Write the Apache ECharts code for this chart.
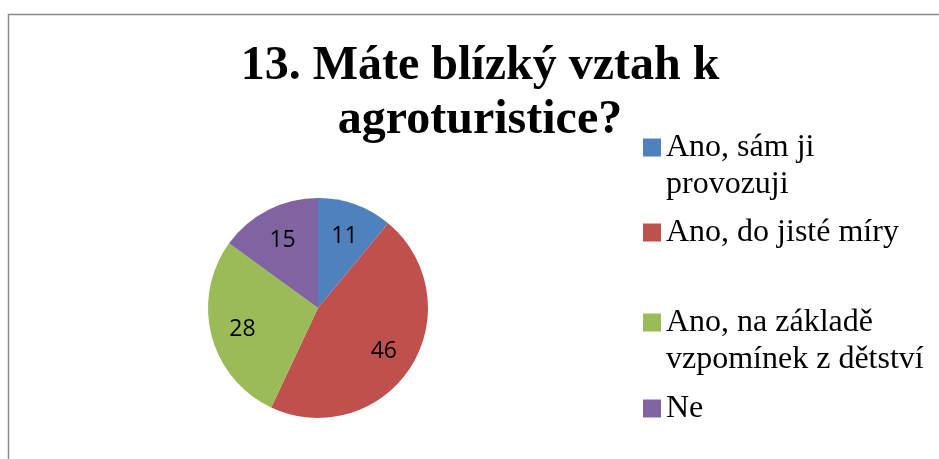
<!DOCTYPE html>
<html>
<head>
	<meta charset="utf-8"/>
	<title>13. Máte blízký vztah k agroturistice?</title>
	<script src="https://cdn.jsdelivr.net/npm/echarts@6/dist/echarts.min.js"></script>
	<style>
		html, body { margin: 0; padding: 0; background: #fff; }
		#chart { width: 939px; height: 459px; }
	</style>
</head>
<body>
<div id="chart"></div>
<script>
    // data
    var titleText = '13. Máte blízký vztah k\nagroturistice?';
    var categories = ['Ano, sám ji provozuji', 'Ano, do jisté míry', 'Ano, na základě vzpomínek z dětství', 'Ne'];
    var values = [11, 46, 28, 15];
    var colors = ['#4F81BD', '#C0504D', '#9BBB59', '#8064A2'];
    // legend wraps like the original
    var legendLines = [['Ano, sám ji', 'provozuji'], ['Ano, do jisté míry'], ['Ano, na základě', 'vzpomínek z dětství'], ['Ne']];
    var legendTops = [92, 214, 267, 390];

    var pieData = [];
    for (var i = 0; i < categories.length; i++) {
        pieData.push({ name: categories[i], value: values[i], itemStyle: { color: colors[i] } });
    }

    var legends = [];
    for (var j = 0; j < categories.length; j++) {
        (function (k) {
            legends.push({
                orient: 'vertical',
                left: 643,
                top: legendTops[k],
                padding: 0,
                itemWidth: 18,
                itemHeight: 18,
                itemGap: 0,
                icon: 'rect',
                selectedMode: false,
                data: [categories[k]],
                formatter: function () {
                    // leading blank line keeps the marker beside the first line
                    var lines = legendLines[k];
                    return lines.length > 1 ? '\n' + lines.join('\n') : lines[0];
                },
                textStyle: {
                    fontFamily: '"Liberation Serif", "Times New Roman", serif',
                    fontSize: 32,
                    lineHeight: 37,
                    color: '#000'
                }
            });
        })(j);
    }

    var myChart = echarts.init(document.getElementById('chart'));
    var option = {
        animation: false,
        title: {
            text: titleText,
            left: 480,
            textAlign: 'center',
            top: 40,
            padding: 0,
            textStyle: {
                fontFamily: '"Liberation Serif", "Times New Roman", serif',
                fontWeight: 'bold',
                fontSize: 48,
                lineHeight: 54,
                color: '#000'
            }
        },
        legend: legends,
        graphic: [{
            type: 'polyline',
            silent: true,
            shape: { points: [[939, 14.5], [8.5, 14.5], [8.5, 459]] },
            style: { stroke: '#8a8a8a', lineWidth: 1.5, fill: null }
        }],
        series: [
            {
                type: 'pie',
                center: [318, 308],
                radius: 110,
                startAngle: 90,
                clockwise: true,
                label: { show: false },
                labelLine: { show: false },
                emphasis: { disabled: true },
                itemStyle: { borderWidth: 0 },
                data: pieData
            },
            {
                // transparent ring only to place the value labels further out
                type: 'pie',
                center: [318, 310],
                radius: [40, 110],
                startAngle: 90,
                clockwise: true,
                silent: true,
                legendHoverLink: false,
                itemStyle: { color: 'rgba(0,0,0,0)', borderWidth: 0 },
                label: {
                    show: true,
                    position: 'inside',
                    formatter: '{c}',
                    fontFamily: '"Open Sans", sans-serif',
                    fontSize: 23,
                    color: '#000'
                },
                labelLine: { show: false },
                emphasis: { disabled: true },
                data: values.map(function (v, i) { return { name: categories[i] + ' ', value: v }; })
            }
        ]
    };
    myChart.setOption(option);
</script>
</body>
</html>
